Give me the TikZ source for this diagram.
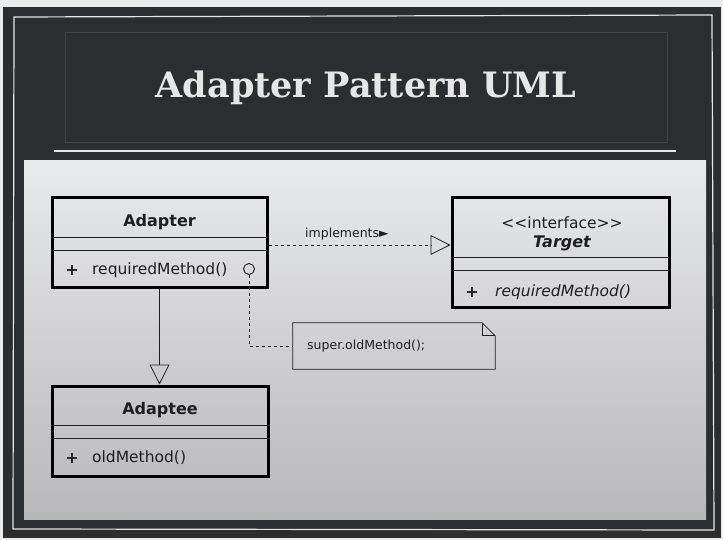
\documentclass[tikz,border=0pt]{standalone}
\usepackage{fontspec}
\setmainfont{DejaVu Sans}
\newfontfamily\titlefont{DejaVu Serif}
\usetikzlibrary{arrows.meta}
\definecolor{board}{HTML}{2B2D30}
\definecolor{chalk}{HTML}{E6E6E6}
\definecolor{ink}{HTML}{1E1E1E}
\definecolor{paneltop}{HTML}{E9EAEC}
\definecolor{panelbot}{HTML}{B8B7B9}
\begin{document}
\begin{tikzpicture}[x=1pt,y=-1pt,
  classbox/.style={draw=black, line width=3pt, inner sep=0pt},
  sep/.style={draw=ink, line width=0.8pt},
  lbl/.style={text=ink, inner sep=0pt, font=\fontsize{15.5}{18}\selectfont},
  bold/.style={font=\bfseries\fontsize{16}{19}\selectfont},
  conn/.style={draw=ink, line width=0.8pt},
  hollow/.style={-{Triangle[open, length=20pt, width=20pt, line width=0.8pt]}}
]
\useasboundingbox (0,0) rectangle (723,540);
\fill[white!92!black] (0,0) rectangle (723,540);
\fill[board] (3,7) rectangle (721,538);
% chalk frame
\draw[chalk, line width=1.2pt] (14,17) -- (712,15) -- (714,530) -- (13,529) -- cycle;
% title box
\draw[white!10!board, line width=0.6pt] (65,32) rectangle (667,142);
\node[text=chalk, font=\titlefont\bfseries\fontsize{35}{42}\selectfont] (title) at (366,88) {Adapter Pattern UML};
\draw[chalk, line width=1.5pt] (54,151) -- (676,151);
% panel
\shade[top color=paneltop, bottom color=panelbot] (24,161) rectangle (706,519);

% Adapter
\node[classbox, minimum width=215pt, minimum height=89pt] (adapter) at (159.5,242.5) {};
\draw[sep] ([yshift=-41pt]adapter.north west) -- ([yshift=-41pt]adapter.north east);
\draw[sep] ([yshift=-54pt]adapter.north west) -- ([yshift=-54pt]adapter.north east);
\node[lbl, bold] (adaptername) at (159.5,222) {Adapter};
\node[lbl, bold] (plus1) at (72,270) {+};
\node[lbl, anchor=west] (m1) at (92,270) {requiredMethod()};
\node[circle, draw=ink, line width=0.9pt, inner sep=0pt, minimum size=11pt] (dot) at (249,269) {};

% Target
\node[classbox, minimum width=217pt, minimum height=109pt] (target) at (560.5,252.5) {};
\draw[sep] ([yshift=-61pt]target.north west) -- ([yshift=-61pt]target.north east);
\draw[sep] ([yshift=-74pt]target.north west) -- ([yshift=-74pt]target.north east);
\node[lbl] (stereo) at (562,223) {{<}{<}interface{>}{>}};
\node[lbl, font=\bfseries\itshape\fontsize{16}{19}\selectfont] (targetname) at (562,243) {Target};
\node[lbl, bold] (plus2) at (472,292) {+};
\node[lbl, anchor=west, font=\itshape\fontsize{15.5}{18}\selectfont] (m2) at (495,292) {requiredMethod()};

% Adaptee
\node[classbox, minimum width=216pt, minimum height=90pt] (adaptee) at (160,431) {};
\draw[sep] ([yshift=-41pt]adaptee.north west) -- ([yshift=-41pt]adaptee.north east);
\draw[sep] ([yshift=-54pt]adaptee.north west) -- ([yshift=-54pt]adaptee.north east);
\node[lbl, bold] (adapteename) at (160,410) {Adaptee};
\node[lbl, bold] (plus3) at (72,458) {+};
\node[lbl, anchor=west] (m3) at (92,458) {oldMethod()};

% Note
\node[minimum width=202pt, minimum height=46pt, inner sep=0pt] (note) at (394,346) {};
\draw[conn, line width=0.7pt] (note.south west) -- (note.north west) -- ([xshift=-13pt]note.north east)
   -- ([yshift=-13pt]note.north east) -- (note.south east) -- cycle;
\draw[conn, line width=0.7pt] ([xshift=-13pt]note.north east) -- ([xshift=-13pt,yshift=-13pt]note.north east) -- ([yshift=-13pt]note.north east);
\node[lbl, anchor=west, font=\fontsize{12.5}{15}\selectfont] (notetext) at (307,346) {super.oldMethod();};

% connectors
\draw[conn, dashed, hollow] ([yshift=-2.5pt]adapter.east) -- ([yshift=7.5pt]target.west);
\node[lbl, anchor=west, font=\fontsize{12.5}{15}\selectfont] (impl) at (305,234) {implements►};
\draw[conn, hollow] (adapter.south) -- (adapter.south |- adaptee.north);
\draw[conn, dashed] (dot.south) |- (note.west);
\end{tikzpicture}
\end{document}
